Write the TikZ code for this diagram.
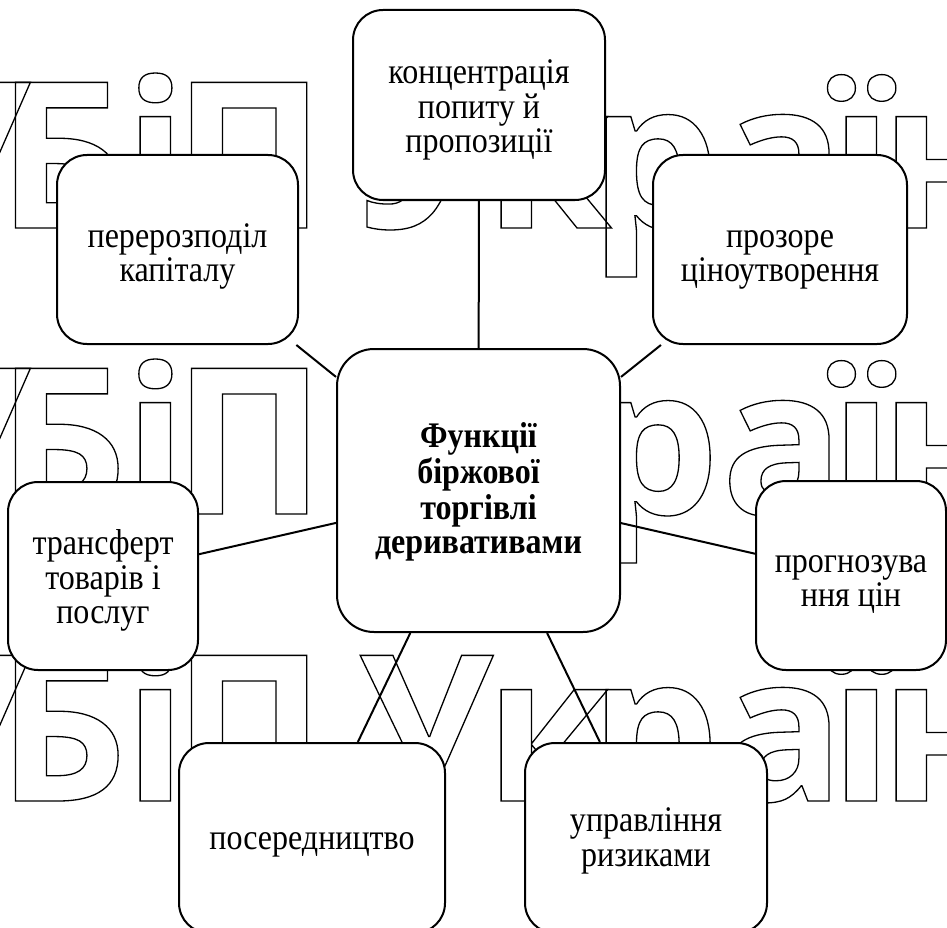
\documentclass[tikz,border=0pt]{standalone}
\usepackage{fontspec}
\setmainfont{Liberation Serif}[FakeStretch=0.89]
\newfontfamily\wmfont{Open Sans}
\tikzset{
 box/.style={draw, line width=2pt, fill=white, rounded corners=30pt, align=center, inner sep=0pt, font=\fontsize{36}{34.5}\selectfont},
 link/.style={line width=2pt},
 wm/.style={anchor=base west, inner sep=0pt, font=\wmfont\bfseries\fontsize{204}{204}\selectfont},
}
\newcommand\outl[1]{\special{pdf:code 1 Tr 1.3 w}#1\special{pdf:code 0 Tr}}
\newcommand\bx[2][6]{\raisebox{-#1pt}[\height][\depth]{\begin{tabular}{@{}c@{}}#2\end{tabular}}}
\begin{document}
\begin{tikzpicture}[x=1pt,y=-1pt]
\useasboundingbox (0,0) rectangle (947,928);
\clip (0,0) rectangle (947,928);
\begin{scope}
\foreach \by in {228,514,801}{
 \foreach \lx/\ch in {-103/У,-3/Б,124/і,173/П,360/У,485/к,590/р,721/а,830/ї,880/н}{
   \node[wm] (w\lx) at (\lx,\by) {\outl{\ch}};
 }
}
\end{scope}
\node[box, minimum width=252pt, minimum height=190pt] (tp) at (479,105) {\bx[6]{концентрація\\попиту й\\пропозиції}};
\node[box, minimum width=241pt, minimum height=189pt] (lt) at (177.5,249.5) {\bx[8]{перерозподіл\\капіталу}};
\node[box, minimum width=254pt, minimum height=189pt] (rt) at (780,249.5) {\bx[8]{прозоре\\ціноутворення}};
\node[box, minimum width=283pt, minimum height=283pt, rounded corners=37pt, font=\bfseries\fontsize{36}{34.5}\selectfont] (ctr) at (478.5,490.5) {\bx[3]{Функції\\біржової\\торгівлі\\деривативами}};
\node[box, minimum width=190pt, minimum height=188pt] (lm) at (103,576) {\bx[6]{трансферт\\товарів і\\послуг}};
\node[box, minimum width=190pt, minimum height=189pt] (rm) at (851,575.5) {\bx[7]{прогнозува\\ння цін}};
\node[box, minimum width=266pt, minimum height=190pt] (bl) at (312,838) {\bx[5]{посередництво}};
\node[box, minimum width=242pt, minimum height=190pt] (br) at (646,838) {\bx[4]{управління\\ризиками}};
\draw[link] (ctr) -- (tp);
\draw[link] (ctr) -- (lt);
\draw[link] (ctr) -- (rt);
\draw[link] (ctr) -- (lm);
\draw[link] (ctr) -- (rm);
\draw[link] (ctr) -- (bl);
\draw[link] (ctr) -- (br);
\end{tikzpicture}
\end{document}
